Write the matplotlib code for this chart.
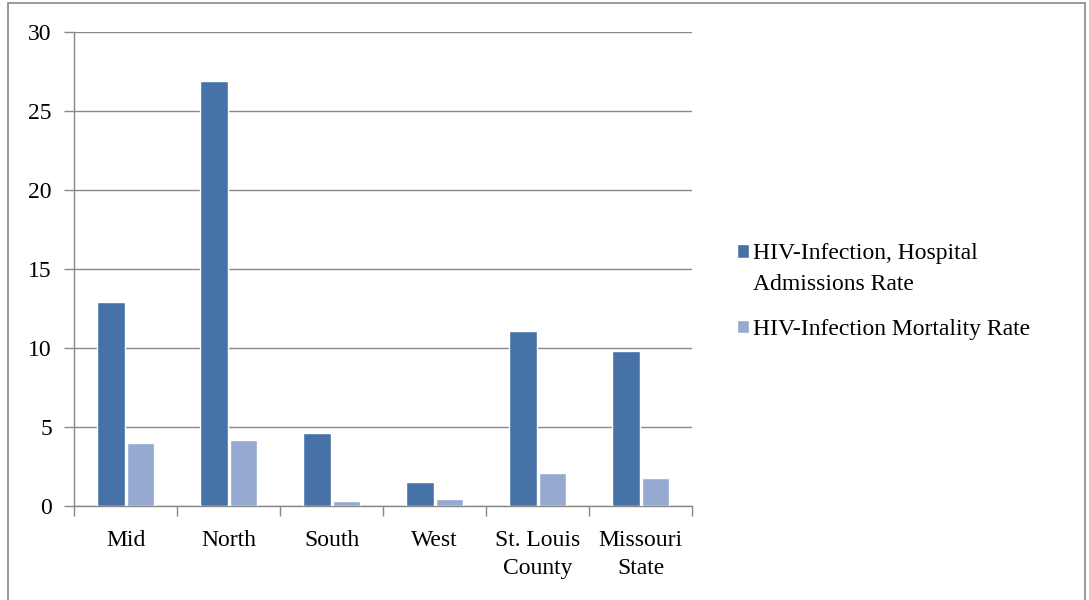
import numpy as np
import matplotlib.pyplot as plt
from matplotlib.patches import Rectangle

# data
regions = ["Mid", "North", "South", "West", "St. Louis\nCounty", "Missouri\nState"]
admissions = [12.9, 26.9, 4.6, 1.5, 11.1, 9.8]
mortality = [4.0, 4.2, 0.3, 0.45, 2.1, 1.8]
series_names = ["HIV-Infection, Hospital", "HIV-Infection Mortality Rate"]
wrap_line = "Admissions Rate"

dark = "#4672A8"
light = "#95A9D1"
grey = "#888888"

plt.rcParams['font.family'] = ['Liberation Serif', 'DejaVu Serif']

fig = plt.figure(figsize=(10.89, 6.00), dpi=100)
ax = fig.add_axes([0.068, 0.1567, 0.5675, 0.79])

# outer chart frame
fig.patches.append(Rectangle((0.007, -0.01), 0.989, 1.005, transform=fig.transFigure,
                             fill=False, edgecolor=grey, linewidth=1.2))

x = np.arange(len(regions))
w = 0.265
b1 = ax.bar(x - w / 2 - 0.01, admissions, w, color=dark, edgecolor="white", linewidth=1.0,
            label=series_names[0], zorder=3)
b2 = ax.bar(x + w / 2 + 0.01, mortality, w, color=light, edgecolor="white", linewidth=1.0,
            label=series_names[1], zorder=3)

ax.set_xlim(-0.5, len(regions) - 0.5)
ax.set_ylim(0, 30)
ax.set_yticks(range(0, 31, 5))
ax.yaxis.grid(True, color=grey, linewidth=1.0, zorder=0)
ax.set_axisbelow(True)

ax.set_xticks(x)
ax.set_xticklabels(regions, fontsize=17, linespacing=1.45)
ax.set_xticks(np.arange(-0.5, len(regions)), minor=True)
ax.tick_params(axis='x', which='major', length=0, pad=17)
ax.tick_params(axis='x', which='minor', length=7, color=grey, width=1.0)
ax.tick_params(axis='y', length=7, color=grey, width=1.0, labelsize=17, pad=9)

for s in ["top", "right"]:
    ax.spines[s].set_visible(False)
for s in ["left", "bottom"]:
    ax.spines[s].set_color(grey)
    ax.spines[s].set_linewidth(1.0)

leg = fig.legend(handles=[b1, b2], loc="upper left", bbox_to_anchor=(0.668, 0.61),
                 frameon=False, fontsize=17, handlelength=0.5, handleheight=0.5,
                 handletextpad=0.2, labelspacing=2.3, borderaxespad=0)

# second line of the first legend label, wrapped like the original
fig.canvas.draw()
bb = leg.get_texts()[0].get_window_extent()
W, H = fig.bbox.width, fig.bbox.height
fig.text(bb.x0 / W, (bb.y0 - 31) / H, wrap_line, fontsize=17, ha="left", va="bottom")

fig.savefig("out.png", dpi=100)
